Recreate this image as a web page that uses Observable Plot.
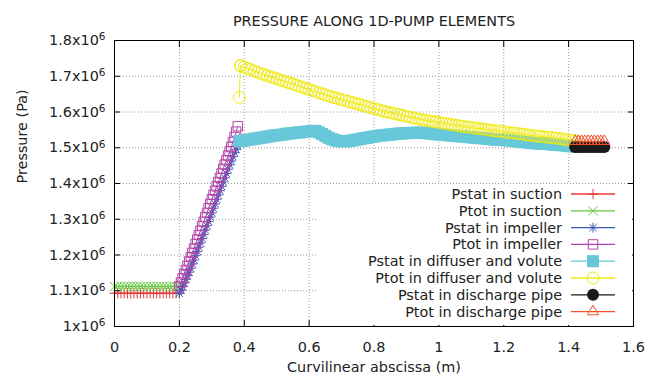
<!DOCTYPE html>
<html><head><meta charset="utf-8">
<script src="https://cdn.jsdelivr.net/npm/d3@7"></script>
<script src="https://cdn.jsdelivr.net/npm/@observablehq/plot@0.6"></script>
<style>html,body{margin:0;padding:0;background:#fff;}</style>
</head><body><div id="chart"></div>
<script>
const title = "PRESSURE ALONG 1D-PUMP ELEMENTS";
const xLabel = "Curvilinear abscissa (m)";
const yLabel = "Pressure (Pa)";
const xTicks = [0, 0.2, 0.4, 0.6, 0.8, 1.0, 1.2, 1.4, 1.6];
const xTickLabels = ["0", "0.2", "0.4", "0.6", "0.8", "1", "1.2", "1.4", "1.6"];
const yTicks = [1.0e6, 1.1e6, 1.2e6, 1.3e6, 1.4e6, 1.5e6, 1.6e6, 1.7e6, 1.8e6];
const yTickLabels = ["1", "1.1", "1.2", "1.3", "1.4", "1.5", "1.6", "1.7", "1.8"];
const yTickExponent = "6";

const seriesNames = [
  "Pstat in suction", "Ptot in suction", "Pstat in impeller", "Ptot in impeller",
  "Pstat in diffuser and volute", "Ptot in diffuser and volute",
  "Pstat in discharge pipe", "Ptot in discharge pipe"
];

// suction
const suctionX = [0, 0.01, 0.02, 0.03, 0.04, 0.05, 0.06, 0.07, 0.08, 0.09, 0.10,
  0.11, 0.12, 0.13, 0.14, 0.15, 0.16, 0.17, 0.18, 0.19, 0.20];
const suctionPstat = [1.093e6, 1.093e6, 1.093e6, 1.093e6, 1.093e6, 1.093e6, 1.093e6,
  1.093e6, 1.093e6, 1.093e6, 1.093e6, 1.093e6, 1.093e6, 1.093e6, 1.093e6, 1.093e6,
  1.093e6, 1.093e6, 1.093e6, 1.093e6, 1.093e6];
const suctionPtot = [1.112e6, 1.112e6, 1.112e6, 1.112e6, 1.112e6, 1.112e6, 1.112e6,
  1.112e6, 1.112e6, 1.112e6, 1.112e6, 1.112e6, 1.112e6, 1.112e6, 1.112e6, 1.112e6,
  1.112e6, 1.112e6, 1.112e6, 1.112e6, 1.112e6];

// impeller
const impellerX = [0.200, 0.205, 0.210, 0.215, 0.220, 0.225, 0.230, 0.235, 0.240, 0.245,
  0.250, 0.255, 0.260, 0.265, 0.270, 0.275, 0.280, 0.285, 0.290, 0.295, 0.300, 0.305,
  0.310, 0.315, 0.320, 0.325, 0.330, 0.335, 0.340, 0.345, 0.350, 0.355, 0.360, 0.365,
  0.370, 0.375, 0.380];
const impellerPstat = [1.093e6, 1.102e6, 1.112e6, 1.122e6, 1.132e6, 1.142e6, 1.152e6,
  1.163e6, 1.175e6, 1.186e6, 1.198e6, 1.210e6, 1.222e6, 1.234e6, 1.246e6, 1.258e6,
  1.270e6, 1.282e6, 1.294e6, 1.306e6, 1.318e6, 1.331e6, 1.343e6, 1.356e6, 1.368e6,
  1.380e6, 1.392e6, 1.404e6, 1.416e6, 1.428e6, 1.440e6, 1.452e6, 1.463e6, 1.475e6,
  1.486e6, 1.496e6, 1.505e6];
const impellerPtot = [1.112e6, 1.123e6, 1.135e6, 1.146e6, 1.158e6, 1.170e6, 1.182e6,
  1.194e6, 1.206e6, 1.218e6, 1.231e6, 1.243e6, 1.256e6, 1.268e6, 1.281e6, 1.293e6,
  1.306e6, 1.318e6, 1.331e6, 1.343e6, 1.356e6, 1.368e6, 1.380e6, 1.392e6, 1.404e6,
  1.416e6, 1.428e6, 1.441e6, 1.453e6, 1.465e6, 1.478e6, 1.490e6, 1.502e6, 1.516e6,
  1.530e6, 1.545e6, 1.560e6];

// diffuser and volute
const diffuserX = [0.385, 0.39, 0.40, 0.41, 0.42, 0.43, 0.44, 0.45, 0.46, 0.47, 0.48,
  0.49, 0.50, 0.51, 0.52, 0.53, 0.54, 0.55, 0.56, 0.57, 0.58, 0.59, 0.60, 0.61, 0.62,
  0.63, 0.64, 0.65, 0.66, 0.67, 0.68, 0.69, 0.70, 0.71, 0.72, 0.73, 0.74, 0.75, 0.76,
  0.77, 0.78, 0.79, 0.80, 0.81, 0.82, 0.83, 0.84, 0.85, 0.86, 0.87, 0.88, 0.89, 0.90,
  0.91, 0.92, 0.93, 0.94, 0.95, 0.96, 0.97, 0.98, 0.99, 1.00, 1.01, 1.02, 1.03, 1.04,
  1.05, 1.06, 1.07, 1.08, 1.09, 1.10, 1.11, 1.12, 1.13, 1.14, 1.15, 1.16, 1.17, 1.18,
  1.19, 1.20, 1.21, 1.22, 1.23, 1.24, 1.25, 1.26, 1.27, 1.28, 1.29, 1.30, 1.31, 1.32,
  1.33, 1.34, 1.35, 1.36, 1.37, 1.38, 1.39, 1.40, 1.41, 1.42];
const diffuserPstat = [1.518e6, 1.519e6, 1.520e6, 1.522e6, 1.523e6, 1.525e6, 1.526e6,
  1.528e6, 1.529e6, 1.531e6, 1.532e6, 1.534e6, 1.535e6, 1.536e6, 1.537e6, 1.539e6,
  1.540e6, 1.541e6, 1.542e6, 1.543e6, 1.544e6, 1.545e6, 1.546e6, 1.547e6, 1.547e6,
  1.543e6, 1.538e6, 1.533e6, 1.528e6, 1.524e6, 1.521e6, 1.519e6, 1.518e6, 1.518e6,
  1.519e6, 1.520e6, 1.522e6, 1.523e6, 1.525e6, 1.527e6, 1.528e6, 1.530e6, 1.531e6,
  1.533e6, 1.534e6, 1.535e6, 1.536e6, 1.537e6, 1.538e6, 1.539e6, 1.540e6, 1.540e6,
  1.541e6, 1.541e6, 1.542e6, 1.542e6, 1.542e6, 1.542e6, 1.541e6, 1.540e6, 1.539e6,
  1.538e6, 1.537e6, 1.537e6, 1.536e6, 1.535e6, 1.534e6, 1.533e6, 1.532e6, 1.532e6,
  1.531e6, 1.530e6, 1.529e6, 1.528e6, 1.527e6, 1.527e6, 1.526e6, 1.525e6, 1.524e6,
  1.523e6, 1.522e6, 1.522e6, 1.521e6, 1.521e6, 1.520e6, 1.519e6, 1.518e6, 1.517e6,
  1.516e6, 1.515e6, 1.514e6, 1.513e6, 1.512e6, 1.512e6, 1.511e6, 1.511e6, 1.510e6,
  1.509e6, 1.508e6, 1.508e6, 1.507e6, 1.506e6, 1.505e6, 1.504e6, 1.503e6];
const diffuserPtotX = [0.385, 0.388, 0.39, 0.40, 0.41, 0.42, 0.43, 0.44, 0.45, 0.46,
  0.47, 0.48, 0.49, 0.50, 0.51, 0.52, 0.53, 0.54, 0.55, 0.56, 0.57, 0.58, 0.59, 0.60,
  0.61, 0.62, 0.63, 0.64, 0.65, 0.66, 0.67, 0.68, 0.69, 0.70, 0.71, 0.72, 0.73, 0.74,
  0.75, 0.76, 0.77, 0.78, 0.79, 0.80, 0.81, 0.82, 0.83, 0.84, 0.85, 0.86, 0.87, 0.88,
  0.89, 0.90, 0.91, 0.92, 0.93, 0.94, 0.95, 0.96, 0.97, 0.98, 0.99, 1.00, 1.01, 1.02,
  1.03, 1.04, 1.05, 1.06, 1.07, 1.08, 1.09, 1.10, 1.11, 1.12, 1.13, 1.14, 1.15, 1.16,
  1.17, 1.18, 1.19, 1.20, 1.21, 1.22, 1.23, 1.24, 1.25, 1.26, 1.27, 1.28, 1.29, 1.30,
  1.31, 1.32, 1.33, 1.34, 1.35, 1.36, 1.37, 1.38, 1.39, 1.40, 1.41, 1.42];
const diffuserPtot = [1.641e6, 1.730e6, 1.729e6, 1.726e6, 1.722e6, 1.719e6, 1.715e6,
  1.712e6, 1.708e6, 1.705e6, 1.702e6, 1.699e6, 1.696e6, 1.693e6, 1.690e6, 1.687e6,
  1.684e6, 1.681e6, 1.678e6, 1.675e6, 1.672e6, 1.669e6, 1.666e6, 1.663e6, 1.660e6,
  1.657e6, 1.654e6, 1.651e6, 1.648e6, 1.645e6, 1.642e6, 1.640e6, 1.637e6, 1.635e6,
  1.632e6, 1.630e6, 1.627e6, 1.625e6, 1.622e6, 1.620e6, 1.617e6, 1.615e6, 1.612e6,
  1.610e6, 1.607e6, 1.605e6, 1.602e6, 1.600e6, 1.598e6, 1.596e6, 1.594e6, 1.592e6,
  1.590e6, 1.588e6, 1.586e6, 1.584e6, 1.582e6, 1.580e6, 1.578e6, 1.577e6, 1.575e6,
  1.574e6, 1.572e6, 1.571e6, 1.569e6, 1.568e6, 1.566e6, 1.565e6, 1.563e6, 1.562e6,
  1.560e6, 1.559e6, 1.558e6, 1.557e6, 1.555e6, 1.554e6, 1.553e6, 1.552e6, 1.550e6,
  1.549e6, 1.548e6, 1.547e6, 1.546e6, 1.545e6, 1.543e6, 1.542e6, 1.541e6, 1.540e6,
  1.539e6, 1.538e6, 1.536e6, 1.535e6, 1.534e6, 1.533e6, 1.532e6, 1.531e6, 1.530e6,
  1.529e6, 1.528e6, 1.527e6, 1.526e6, 1.525e6, 1.523e6, 1.522e6, 1.521e6, 1.520e6];

// discharge pipe
const dischargeX = [1.42, 1.43, 1.44, 1.45, 1.46, 1.47, 1.48, 1.49, 1.50, 1.51];
const dischargePstat = [1.502e6, 1.502e6, 1.502e6, 1.502e6, 1.502e6, 1.502e6, 1.502e6,
  1.502e6, 1.502e6, 1.502e6];
const dischargePtot = [1.518e6, 1.518e6, 1.518e6, 1.518e6, 1.518e6, 1.518e6, 1.518e6,
  1.518e6, 1.518e6, 1.518e6];

const pts = (xs, ys) => xs.map((x, i) => ({x, y: ys[i]}));

const series = [
  {data: pts(suctionX, suctionPstat), color: "#e8383a", filled: false, symbols: [{symbol: "plus", r: 3.4}]},
  {data: pts(suctionX, suctionPtot), color: "#66c844", filled: false, symbols: [{symbol: "times", r: 4.2}]},
  {data: pts(impellerX, impellerPstat), color: "#3a5cb4", filled: false, symbols: [{symbol: "plus", r: 3.3}, {symbol: "times", r: 3.4}]},
  {data: pts(impellerX, impellerPtot), color: "#b444a8", filled: false, symbols: [{symbol: "square2", r: 6.0}]},
  {data: pts(diffuserX, diffuserPstat), color: "#66c8d8", filled: true, symbols: [{symbol: "square", r: 6.8}]},
  {data: pts(diffuserPtotX, diffuserPtot), color: "#f0ea14", filled: false, symbols: [{symbol: "circle", r: 5.9}]},
  {data: pts(dischargeX, dischargePstat), color: "#1a1a1a", filled: true, symbols: [{symbol: "circle", r: 6.0}]},
  {data: pts(dischargeX, dischargePtot), color: "#f0522a", filled: false, symbols: [{symbol: "triangle2", r: 5.3}]}
];

const FONT = "'DejaVu Sans', sans-serif";
const FONT_SIZE = "14.4px";
const gridStyle = {stroke: "#9a9a9a", strokeOpacity: 1, strokeDasharray: "1,2"};
const tickStyle = {tickSize: -6, fill: "none", stroke: "#000", strokeOpacity: 1, label: null};

const plot = Plot.plot({
  width: 662, height: 380,
  marginLeft: 114, marginRight: 29, marginTop: 40, marginBottom: 54,
  x: {domain: [0, 1.6]},
  y: {domain: [1.0e6, 1.8e6]},
  style: {fontFamily: FONT, fontSize: FONT_SIZE, color: "#222", background: "#fff", overflow: "visible"},
  marks: [
    Plot.gridX(xTicks, gridStyle),
    Plot.gridY(yTicks, gridStyle),
    ...series.flatMap(s => [
      Plot.line(s.data, {x: "x", y: "y", stroke: s.color, strokeWidth: 1}),
      ...s.symbols.map(sym => Plot.dot(s.data, {
        x: "x", y: "y", symbol: sym.symbol, r: sym.r,
        fill: s.filled ? s.color : "none",
        stroke: s.filled ? "none" : s.color,
        strokeWidth: 1
      }))
    ]),
    Plot.frame({stroke: "#000", strokeWidth: 1}),
    Plot.axisX(xTicks, {anchor: "bottom", ...tickStyle}),
    Plot.axisX(xTicks, {anchor: "top", ...tickStyle}),
    Plot.axisY(yTicks, {anchor: "left", ...tickStyle}),
    Plot.axisY(yTicks, {anchor: "right", ...tickStyle}),
    Plot.axisX(xTicks, {anchor: "bottom", tickSize: 0, tickPadding: 15, label: null,
      tickFormat: d => xTickLabels[xTicks.indexOf(d)]}),
    Plot.axisY(yTicks, {anchor: "left", tickSize: 0, tickPadding: 9, label: null,
      tickFormat: d => yTickLabels[yTicks.indexOf(d)] + "x10"}),
    Plot.text([title], {text: d => d, frameAnchor: "top", dy: -25}),
    Plot.text([xLabel], {text: d => d, frameAnchor: "bottom", dy: 45}),
    Plot.text([yLabel], {text: d => d, frameAnchor: "left", dx: -92, rotate: -90})
  ]
});

document.getElementById("chart").appendChild(plot);

const svg = d3.select(plot.tagName.toLowerCase() === "svg" ? plot : plot.querySelector("svg"));

// superscript exponent on y tick labels
svg.selectAll('g[aria-label="y-axis tick label"] text').each(function() {
  d3.select(this).append("tspan").attr("dy", "-0.45em").attr("font-size", "10.5px").text(yTickExponent);
});

// opaque key (legend), gnuplot style
const key = svg.append("g").attr("font-family", FONT).attr("font-size", FONT_SIZE);
key.append("rect").attr("x", 316).attr("y", 184).attr("width", 316).attr("height", 141).attr("fill", "#fff");
const symMap = {plus: d3.symbolPlus, times: d3.symbolTimes, square2: d3.symbolSquare2,
  square: d3.symbolSquare, circle: d3.symbolCircle, triangle2: d3.symbolTriangle2};
series.forEach((s, i) => {
  const y = 194 + 16.8 * i;
  key.append("text").attr("x", 562).attr("y", y).attr("dy", "0.35em").attr("text-anchor", "end")
    .attr("fill", "#222").text(seriesNames[i]);
  key.append("line").attr("x1", 571).attr("x2", 615).attr("y1", y).attr("y2", y)
    .attr("stroke", s.color).attr("stroke-width", 1.3);
  s.symbols.forEach(sym => {
    key.append("path")
      .attr("transform", `translate(593,${y})`)
      .attr("d", d3.symbol(symMap[sym.symbol], Math.PI * sym.r * sym.r)())
      .attr("fill", s.filled ? s.color : "none")
      .attr("stroke", s.filled ? "none" : s.color)
      .attr("stroke-width", 1);
  });
});
</script></body></html>
